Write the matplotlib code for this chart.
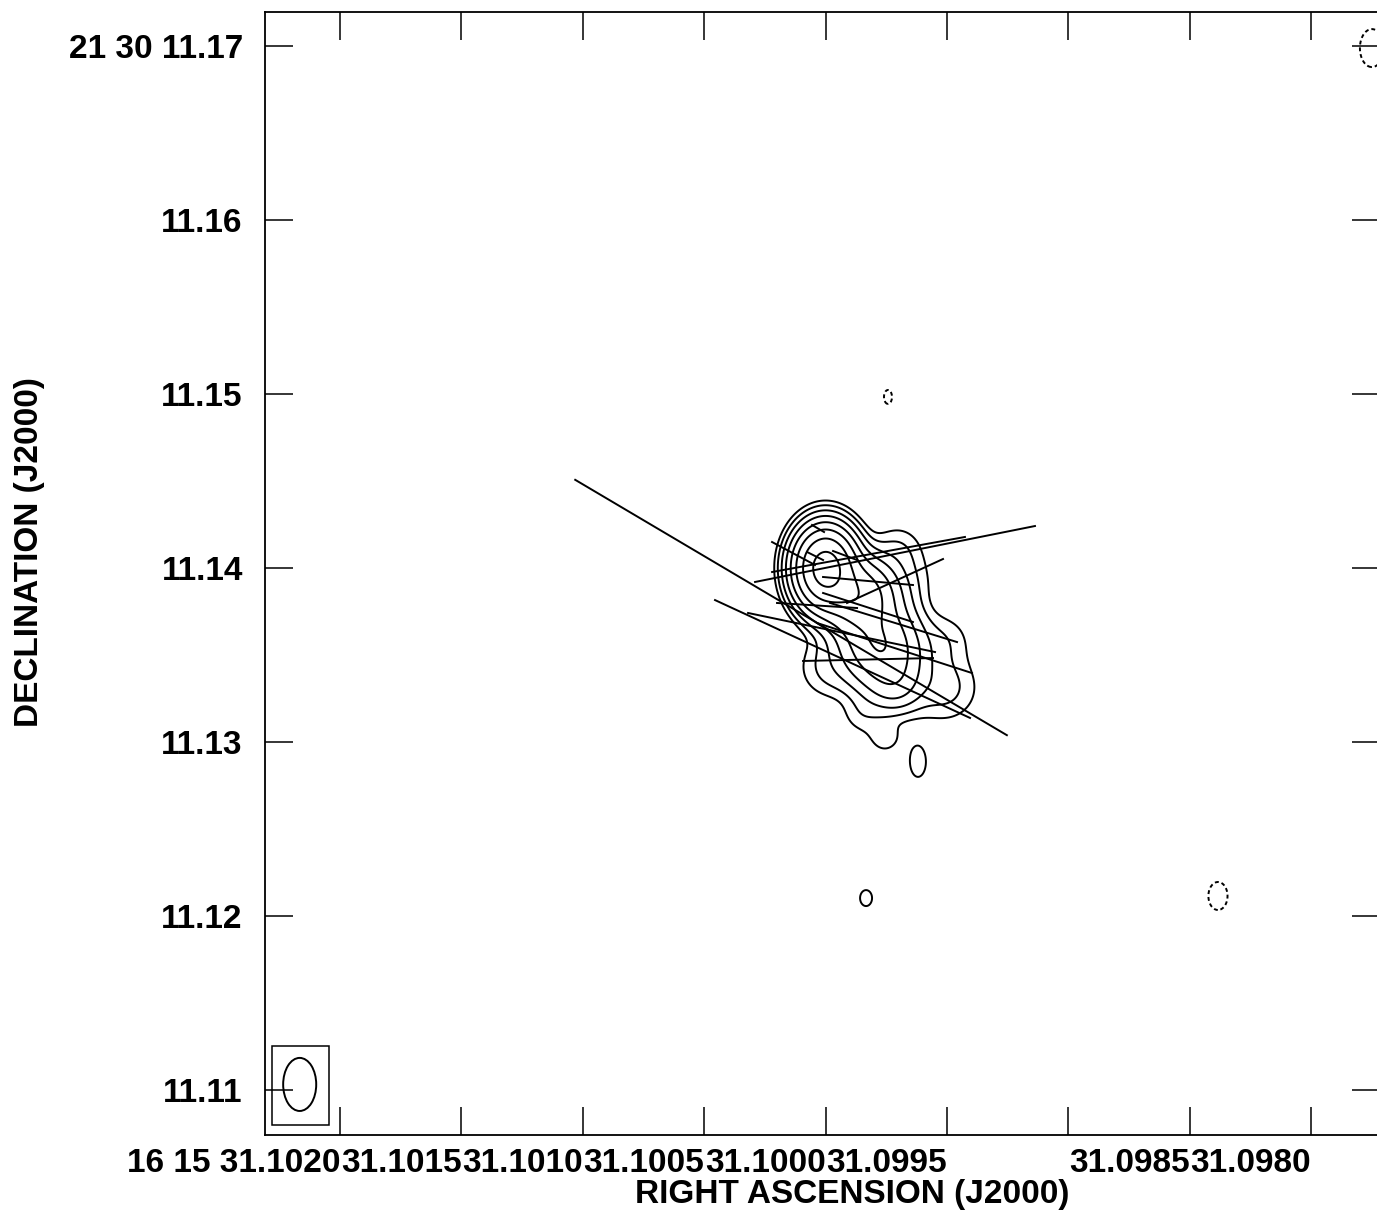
import numpy as np
import matplotlib
matplotlib.use("Agg")
import matplotlib.pyplot as plt
from matplotlib.patches import Ellipse, Rectangle

plt.rcParams['font.family'] = ['Liberation Sans', 'DejaVu Sans']
plt.rcParams['font.weight'] = 'bold'

W, H = 1377, 1214

# map centre = core position (RA seconds of 16 15, Dec arcsec of +21 30)
RA0 = 31.1000
DEC0 = 11.14
COS_DEC = np.cos(np.radians(21 + 30 / 60 + 11.14 / 3600))

# clean components: offsets in mas (east, north), amplitude, sigma major/minor (mas), PA (deg)
comp_east = [0.0, -1.868, -3.132, -3.994, -4.281, -4.167, -6.868, -6.868,
             -0.201, -2.098, -3.419, -5.316, -2.33, -3.59, -22.56, -31.41]
comp_north = [0.0, -1.552, -4.425, -6.724, -0.690, 1.149, -4.138, -6.896,
              -5.747, -8.448, -9.770, -11.149, -18.97, 9.83, -18.85, 29.88]
comp_amp = [170, 50, 32, 5, 1.8, 1.5, 1.5, 2.4,
            2.15, 1.3, 1.4, 1.5, 1.4, -1.4, -1.4, -1.4]
comp_smaj = [1.21, 1.149, 1.609, 0.862, 1.264, 0.920, 1.034, 1.264,
             1.149, 0.805, 0.690, 0.95, 0.56, 0.49, 0.98, 1.33]
comp_smin = [0.92, 1.149, 1.264, 0.862, 1.264, 0.920, 1.034, 1.264,
             1.149, 0.805, 0.690, 0.50, 0.42, 0.28, 0.67, 0.84]
comp_pa = [0, 0, 23, 0, 0, 0, 0, 0,
           0, 0, 0, 0, 0, 0, 0, 0]

levels = [-1, 1, 2, 4, 8, 16, 32, 64, 128]

# polarisation vectors: centre offset (mas), length (mas), position angle (deg)
vec_east = [1.983, -0.977, -0.920, -2.442, -3.994, -2.471, 1.839, 0.488, -2.442, -3.994, -2.442, -3.908, -3.965, -1.121, 0.431, 0.603]
vec_north = [-2.270, -5.230, -3.707, -5.259, 0.805, 0.776, 0.833, -2.155, -0.747, -0.747, -2.270, -3.132, -4.598, 0.718, 2.270, 0.690]
vec_len = [28.83, 16.15, 10.98, 7.47, 16.41, 11.27, 2.80, 4.61, 5.19, 6.07, 5.43, 7.64, 9.36, 1.47, 0.80, 1.03]
vec_pa = [59.4, 65.2, 78.2, 91.3, 101.3, 100.3, 61.9, 86.4, 84.9, 114.6, 72.1, 72.9, 72.1, 69.4, 59.7, 63.4]

# restoring beam (mas, deg)
beam_maj, beam_min, beam_pa = 3.05, 1.90, 0.0

ra_ticks = [31.1020, 31.1015, 31.1010, 31.1005, 31.1000, 31.0995, 31.0990, 31.0985, 31.0980]
ra_labels = ['16 15 31.1020', '31.1015', '31.1010', '31.1005', '31.1000', '31.0995', '', '31.0985', '31.0980']
dec_ticks = [11.11, 11.12, 11.13, 11.14, 11.15, 11.16, 11.17]
dec_labels = ['11.11', '11.12', '11.13', '11.14', '11.15', '11.16', '21 30 11.17']


def to_ra(east):
    return RA0 + np.asarray(east) / 1000.0 / (15.0 * COS_DEC)


def to_dec(north):
    return DEC0 + np.asarray(north) / 1000.0


# model image
e = np.linspace(34, -34, 1361)
n = np.linspace(-34, 34, 1361)
E, N = np.meshgrid(e, n)
img = np.zeros_like(E)
for ce, cn, a, smaj, smin, pa in zip(comp_east, comp_north, comp_amp, comp_smaj, comp_smin, comp_pa):
    t = np.radians(pa)
    du = (E - ce) * np.sin(t) + (N - cn) * np.cos(t)
    dv = (E - ce) * np.cos(t) - (N - cn) * np.sin(t)
    img += a * np.exp(-0.5 * (du ** 2 / smaj ** 2 + dv ** 2 / smin ** 2))

fig = plt.figure(figsize=(W / 100, H / 100), dpi=100)
ax = fig.add_axes([265 / W, 1 - 1135 / H, (1380 - 265) / W, (1135 - 12) / H])

ax.contour(to_ra(E), to_dec(N), img, levels=levels, colors='k', linewidths=1.4,
           negative_linestyles=(0, (2, 1.5)))

# vectors
for ve, vn, vl, pa in zip(vec_east, vec_north, vec_len, vec_pa):
    de = 0.5 * vl * np.sin(np.radians(pa))
    dn = 0.5 * vl * np.cos(np.radians(pa))
    ax.plot(to_ra([ve - de, ve + de]), to_dec([vn - dn, vn + dn]), color='k', lw=1.4)

# beam in a box, lower left corner
bx, by = 30.23, -29.68
ax.add_patch(Ellipse((to_ra(bx), to_dec(by)), beam_min / 1000 / (15 * COS_DEC), beam_maj / 1000,
                     angle=beam_pa, fill=False, ec='k', lw=1.4))
ax.add_patch(Rectangle((to_ra(30.17 - 1.64), to_dec(-29.74 - 2.27)), 3.28 / 1000 / (15 * COS_DEC), 4.54 / 1000,
                       fill=False, ec='k', lw=1.1))

ax.set_xlim(31.102309, 31.097716)
ax.set_ylim(11.107414, 11.171954)

ax.set_xticks(ra_ticks)
ax.set_xticklabels(ra_labels, ha='right')
ax.set_yticks(dec_ticks)
ax.set_yticklabels(dec_labels)
ax.tick_params(direction='in', length=20, width=1.1, top=True, right=True, labelsize=24)
ax.tick_params(axis='x', pad=9)
ax.tick_params(axis='y', pad=16)
for s in ax.spines.values():
    s.set_linewidth(1.3)

ax.set_xlabel('RIGHT ASCENSION (J2000)', fontsize=24, fontweight='bold')
ax.xaxis.set_label_coords(852 / W, 1 - 1194 / H, transform=fig.transFigure)
ax.xaxis.label.set_verticalalignment('center')
ax.set_ylabel('DECLINATION (J2000)', fontsize=24, fontweight='bold')
ax.yaxis.set_label_coords(30 / W, 1 - 552 / H, transform=fig.transFigure)
ax.yaxis.label.set_verticalalignment('center')

fig.savefig('out.png', dpi=100)
